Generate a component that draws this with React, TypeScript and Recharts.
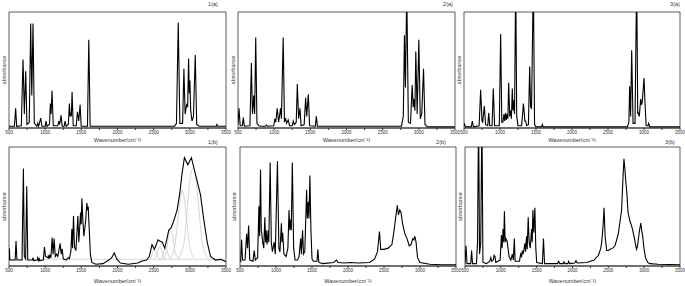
import React from "react";
import { LineChart, Line, XAxis, YAxis, ReferenceArea, ReferenceLine } from "recharts";

type Pt = [number, number];

// x range and ticks shared by every panel
const X_MIN = 500;
const X_MAX = 3500;
const X_TICKS = [500, 750, 1000, 1250, 1500, 1750, 2000, 2250, 2500, 2750, 3000, 3250, 3500];
const Y_MAX = 1;

// spectra: [wavenumber, absorbance]
const spec1a: Pt[] = [
  [500, 0.015], [575, 0.015], [592, 0.17], [606, 0.015],
  [670, 0.02], [694, 0.59], [712, 0.12], [731, 0.49], [748, 0.03],
  [780, 0.05], [800, 0.9], [815, 0.28], [832, 0.9], [850, 0.04],
  [885, 0.015], [897, 0.04], [910, 0.015], [938, 0.085], [955, 0.015],
  [1000, 0.015], [1012, 0.06], [1025, 0.015],
  [1060, 0.03], [1072, 0.21], [1082, 0.12], [1095, 0.32], [1112, 0.02],
  [1175, 0.02], [1188, 0.06], [1200, 0.03], [1220, 0.11], [1235, 0.015],
  [1262, 0.015], [1275, 0.06], [1290, 0.015],
  [1320, 0.03], [1335, 0.21], [1345, 0.1], [1354, 0.13], [1362, 0.1], [1372, 0.31], [1388, 0.02],
  [1430, 0.02], [1446, 0.14], [1464, 0.06], [1483, 0.2], [1498, 0.015],
  [1585, 0.015], [1603, 0.76], [1622, 0.015],
  [2790, 0.015], [2815, 0.04], [2840, 0.91], [2862, 0.04], [2900, 0.04], [2918, 0.51],
  [2935, 0.12], [2955, 0.2], [2970, 0.18], [2983, 0.6], [2992, 0.3], [3001, 0.41],
  [3012, 0.15], [3030, 0.06], [3050, 0.1], [3075, 0.63], [3095, 0.03], [3130, 0.015],
  [3365, 0.015], [3375, 0.03], [3385, 0.015], [3500, 0.015],
];

const spec2a: Pt[] = [
  [500, 0.03], [514, 0.17], [530, 0.02], [560, 0.02], [574, 0.09], [588, 0.015],
  [665, 0.02], [685, 0.56], [700, 0.12], [718, 0.28], [730, 0.12], [745, 0.78], [762, 0.04],
  [790, 0.02], [820, 0.015], [880, 0.015], [894, 0.025], [908, 0.015],
  [995, 0.02], [1009, 0.08], [1022, 0.05], [1042, 0.17], [1062, 0.05], [1088, 0.17], [1100, 0.08],
  [1125, 0.78], [1142, 0.05], [1157, 0.085], [1172, 0.04], [1194, 0.07], [1212, 0.02],
  [1250, 0.02], [1264, 0.06], [1280, 0.03], [1305, 0.05], [1320, 0.38], [1338, 0.08],
  [1357, 0.17], [1372, 0.02], [1415, 0.03], [1435, 0.26], [1450, 0.1], [1472, 0.29], [1490, 0.02],
  [1570, 0.015], [1583, 0.1], [1598, 0.015],
  [2760, 0.015], [2785, 0.1], [2801, 0.8], [2815, 0.35], [2833, 1.2], [2855, 0.05],
  [2885, 0.04], [2908, 0.37], [2922, 0.18], [2935, 0.25], [2946, 0.15], [2958, 0.66],
  [2977, 0.12], [3000, 0.76], [3020, 0.08], [3040, 0.12], [3065, 0.51], [3085, 0.03],
  [3120, 0.01], [3500, 0.01],
];

const spec3a: Pt[] = [
  [500, 0.02], [505, 0.04], [520, 0.01], [600, 0.01], [616, 0.06], [630, 0.01],
  [710, 0.02], [731, 0.33], [750, 0.06], [760, 0.05], [782, 0.19], [800, 0.03],
  [830, 0.02], [843, 0.13], [858, 0.02], [890, 0.02], [907, 0.34], [925, 0.02],
  [990, 0.02], [1009, 0.81], [1025, 0.05], [1040, 0.05], [1055, 0.12], [1065, 0.06],
  [1078, 0.13], [1088, 0.07], [1100, 0.12], [1110, 0.08], [1120, 0.39], [1135, 0.1],
  [1148, 0.15], [1158, 0.08], [1171, 0.34], [1180, 0.15], [1190, 0.24], [1202, 0.12],
  [1218, 1.3], [1232, 0.1], [1250, 0.02],
  [1300, 0.02], [1318, 0.15], [1324, 0.21], [1335, 0.15], [1345, 0.06], [1357, 0.06], [1370, 0.02],
  [1395, 0.03], [1412, 0.53], [1425, 0.18], [1438, 0.17], [1463, 1.3], [1480, 0.03], [1500, 0.01],
  [1575, 0.01], [1588, 0.03], [1600, 0.01],
  [2770, 0.01], [2790, 0.05], [2801, 0.36], [2814, 0.1], [2829, 0.67], [2848, 0.04],
  [2875, 0.04], [2898, 1.3], [2913, 0.12], [2921, 0.13], [2935, 0.1], [2954, 0.25],
  [2965, 0.2], [2975, 0.22], [3000, 0.43], [3015, 0.2], [3030, 0.02], [3055, 0.02],
  [3065, 0.04], [3080, 0.01], [3500, 0.01],
];

const spec1b: Pt[] = [
  [500, 0.05], [505, 0.15], [512, 0.05], [585, 0.05], [597, 0.21], [610, 0.05],
  [680, 0.05], [699, 0.82], [712, 0.08], [730, 0.06], [745, 0.67], [760, 0.05],
  [825, 0.05], [832, 0.07], [840, 0.045], [890, 0.05], [897, 0.07], [910, 0.045], [918, 0.06], [925, 0.045],
  [975, 0.05], [990, 0.16], [1005, 0.08], [1035, 0.07], [1045, 0.09], [1055, 0.06], [1065, 0.09],
  [1080, 0.07], [1096, 0.24], [1110, 0.1], [1124, 0.23], [1140, 0.08], [1160, 0.1], [1175, 0.08],
  [1207, 0.19], [1222, 0.1], [1235, 0.145], [1250, 0.06], [1290, 0.05], [1320, 0.07], [1335, 0.06],
  [1355, 0.12], [1369, 0.31], [1378, 0.15], [1392, 0.42], [1405, 0.16], [1425, 0.13], [1452, 0.42],
  [1465, 0.2], [1475, 0.3], [1489, 0.45], [1498, 0.35], [1507, 0.57], [1520, 0.4], [1535, 0.25],
  [1560, 0.38], [1576, 0.53], [1586, 0.47], [1595, 0.5], [1610, 0.3], [1625, 0.1], [1645, 0.03],
  [1700, 0.015], [1800, 0.02], [1880, 0.05], [1920, 0.07], [1955, 0.11], [1990, 0.06], [2040, 0.025],
  [2150, 0.015], [2280, 0.025], [2330, 0.04], [2400, 0.05], [2440, 0.08], [2477, 0.18], [2509, 0.14],
  [2530, 0.17], [2560, 0.22], [2584, 0.21], [2620, 0.2], [2653, 0.15], [2680, 0.22], [2708, 0.3],
  [2740, 0.32], [2778, 0.38], [2824, 0.47], [2861, 0.61], [2893, 0.78], [2925, 0.91], [2972, 0.85],
  [3022, 0.91], [3078, 0.77], [3147, 0.6], [3193, 0.39], [3240, 0.2], [3286, 0.08], [3355, 0.05],
  [3425, 0.056], [3500, 0.036],
];

// fitted bands under the CH stretch of 1(b)
const FIT_BASE = 0.056;
const fit1bA: Pt[] = [[2430, 0.056], [2465, 0.075], [2490, 0.12], [2510, 0.14], [2530, 0.12], [2555, 0.075], [2590, 0.056]];
const fit1bB: Pt[] = [[2500, 0.056], [2540, 0.085], [2565, 0.14], [2585, 0.16], [2605, 0.14], [2630, 0.085], [2670, 0.056]];
const fit1bC: Pt[] = [[2580, 0.056], [2620, 0.08], [2645, 0.13], [2665, 0.15], [2685, 0.13], [2710, 0.08], [2750, 0.056]];
const fit1bD: Pt[] = [[2610, 0.056], [2670, 0.11], [2705, 0.24], [2735, 0.3], [2765, 0.24], [2800, 0.11], [2860, 0.056]];
const fit1bE: Pt[] = [[2720, 0.056], [2790, 0.16], [2840, 0.42], [2870, 0.58], [2895, 0.64], [2920, 0.58], [2950, 0.42], [3000, 0.16], [3070, 0.056]];
const fit1bF: Pt[] = [[2830, 0.056], [2920, 0.2], [2975, 0.55], [3010, 0.76], [3045, 0.82], [3080, 0.76], [3115, 0.55], [3170, 0.2], [3260, 0.056]];

const spec2b: Pt[] = [
  [500, 0.05], [510, 0.04], [522, 0.22], [535, 0.05], [570, 0.05], [592, 0.27], [605, 0.15],
  [620, 0.34], [635, 0.05], [680, 0.04], [698, 0.13], [712, 0.05], [745, 0.07], [762, 0.5],
  [772, 0.25], [785, 0.81], [795, 0.3], [804, 0.27], [815, 0.2], [830, 0.15], [845, 0.41],
  [855, 0.2], [863, 0.3], [875, 0.18], [891, 0.3], [900, 0.2], [919, 0.87], [935, 0.2],
  [950, 0.12], [975, 0.2], [990, 0.1], [1020, 0.88], [1040, 0.15], [1055, 0.12], [1075, 0.36],
  [1083, 0.2], [1093, 0.28], [1110, 0.1], [1140, 0.08], [1165, 0.15], [1181, 0.47], [1192, 0.3],
  [1204, 0.39], [1212, 0.3], [1227, 0.87], [1245, 0.15], [1265, 0.05], [1300, 0.05], [1320, 0.08],
  [1342, 0.23], [1352, 0.1], [1369, 0.3], [1382, 0.1], [1400, 0.12], [1425, 0.64], [1435, 0.4],
  [1448, 0.54], [1458, 0.4], [1471, 0.76], [1485, 0.3], [1500, 0.06], [1520, 0.04], [1570, 0.04],
  [1581, 0.14], [1595, 0.03], [1650, 0.02], [1800, 0.03], [1840, 0.05], [1860, 0.03], [1950, 0.025],
  [2030, 0.03], [2150, 0.025], [2300, 0.03], [2370, 0.06], [2410, 0.12], [2437, 0.29], [2455, 0.14],
  [2500, 0.14], [2560, 0.15], [2610, 0.18], [2640, 0.3], [2665, 0.42], [2685, 0.51], [2700, 0.43],
  [2720, 0.47], [2736, 0.45], [2760, 0.35], [2790, 0.27], [2820, 0.23], [2850, 0.17], [2875, 0.18],
  [2900, 0.23], [2915, 0.22], [2929, 0.25], [2945, 0.2], [2966, 0.07], [3000, 0.03], [3136, 0.015],
  [3300, 0.01], [3500, 0.01],
];

const spec3b: Pt[] = [
  [500, 0.02], [514, 0.17], [528, 0.02], [580, 0.02], [592, 0.13], [605, 0.02], [660, 0.02],
  [675, 0.2], [689, 1.3], [703, 0.1], [720, 0.2], [736, 1.3], [750, 0.03], [800, 0.02],
  [845, 0.04], [860, 0.07], [872, 0.04], [895, 0.05], [906, 0.09], [918, 0.08], [930, 0.03],
  [990, 0.05], [1008, 0.26], [1018, 0.15], [1031, 0.31], [1040, 0.2], [1050, 0.46], [1060, 0.2],
  [1070, 0.23], [1087, 0.21], [1100, 0.15], [1115, 0.08], [1140, 0.05], [1160, 0.1], [1175, 0.05],
  [1188, 0.23], [1200, 0.04], [1260, 0.04], [1276, 0.1], [1290, 0.08], [1300, 0.13], [1312, 0.1],
  [1336, 0.19], [1345, 0.12], [1359, 0.25], [1368, 0.14], [1382, 0.41], [1395, 0.2], [1410, 0.15],
  [1429, 0.31], [1438, 0.2], [1447, 0.47], [1460, 0.28], [1475, 0.49], [1488, 0.15], [1500, 0.03],
  [1580, 0.02], [1595, 0.23], [1610, 0.02], [1700, 0.02], [1790, 0.02], [1807, 0.04], [1820, 0.02],
  [1870, 0.02], [1880, 0.035], [1895, 0.02], [1935, 0.02], [1946, 0.04], [1960, 0.02], [2030, 0.025],
  [2048, 0.045], [2065, 0.025], [2200, 0.03], [2300, 0.05], [2362, 0.09], [2395, 0.15], [2408, 0.2],
  [2428, 0.35], [2440, 0.49], [2455, 0.25], [2477, 0.13], [2500, 0.13], [2523, 0.14], [2560, 0.15],
  [2593, 0.17], [2639, 0.27], [2685, 0.47], [2705, 0.75], [2718, 0.9], [2730, 0.82], [2745, 0.7],
  [2759, 0.61], [2775, 0.45], [2800, 0.38], [2824, 0.34], [2840, 0.3], [2861, 0.24], [2893, 0.14],
  [2905, 0.16], [2916, 0.21], [2935, 0.3], [2953, 0.36], [2965, 0.3], [2980, 0.25], [2995, 0.16],
  [3018, 0.07], [3050, 0.03], [3078, 0.02], [3193, 0.015], [3500, 0.01],
];

const FONT = "'Liberation Sans', Arial, sans-serif";
const INK = "#333";

const rows = (pts: Pt[]) => pts.map(([wn, a]) => ({ wn, a }));

interface PanelProps {
  left: number;
  top: number;
  yW: number;
  plotW: number;
  plotH: number;
  mTop: number;
  axisH: number;
  mRight: number;
  spectrum: Pt[];
  fits?: Pt[][];
  base?: number;
}

const Panel: React.FC<PanelProps> = ({ left, top, yW, plotW, plotH, mTop, axisH, mRight, spectrum, fits, base }) => (
  <div style={{ position: "absolute", left, top }}>
    <LineChart
      width={yW + plotW + mRight}
      height={mTop + plotH + axisH}
      margin={{ top: mTop, right: mRight, bottom: 0, left: 0 }}
      style={{ fontFamily: FONT }}
    >
      <XAxis
        dataKey="wn"
        type="number"
        domain={[X_MIN, X_MAX]}
        ticks={X_TICKS}
        interval={0}
        allowDataOverflow
        height={axisH}
        tickFormatter={(v: number) => (v % 500 === 0 ? String(v) : "")}
        tick={{ fontSize: 4.5, fill: INK }}
        tickSize={2}
        tickMargin={1}
        stroke={INK}
        label={{ value: "Wavenumber(cm⁻¹)", position: "insideBottom", offset: 0, fontSize: 5.5, fill: INK }}
      />
      <YAxis
        type="number"
        domain={[0, Y_MAX]}
        allowDataOverflow
        width={yW}
        tick={false}
        tickLine={false}
        axisLine={false}
        label={{ value: "absorbance", angle: -90, position: "center", fontSize: 5.5, fill: INK }}
      />
      <ReferenceArea x1={X_MIN} x2={X_MAX} y1={0} y2={Y_MAX} fill="none" stroke={INK} strokeWidth={0.8} />
      {base != null && <ReferenceLine y={base} stroke="#cfcfcf" strokeWidth={0.8} />}
      {(fits || []).map((f, i) => (
        <Line key={i} data={rows(f)} dataKey="a" type="monotone" stroke="#c4c4c4" strokeWidth={0.7} dot={false} isAnimationActive={false} />
      ))}
      <Line data={rows(spectrum)} dataKey="a" type="linear" stroke="#000" strokeWidth={1.1} dot={false} isAnimationActive={false} />
    </LineChart>
  </div>
);

const Tag: React.FC<{ x: number; y: number; text: string }> = ({ x, y, text }) => (
  <div
    style={{
      position: "absolute",
      left: x,
      top: y,
      transform: "translate(-50%, -50%)",
      fontSize: 5.5,
      lineHeight: 1,
      fontFamily: FONT,
      color: INK,
      whiteSpace: "nowrap",
    }}
  >
    {text}
  </div>
);

export default function App() {
  return (
    <div style={{ position: "fixed", left: 0, top: 0, width: 685, height: 286, background: "#fff", overflow: "hidden" }}>
      <Panel left={0} top={0} yW={9} plotW={217} plotH={116} mTop={12} axisH={14} mRight={6} spectrum={spec1a} />
      <Panel left={228} top={0} yW={10} plotW={217} plotH={116} mTop={12} axisH={14} mRight={6} spectrum={spec2a} />
      <Panel left={455} top={0} yW={9} plotW={216} plotH={116} mTop={12} axisH={14} mRight={5} spectrum={spec3a} />
      <Panel left={0} top={135} yW={9} plotW={217} plotH={119} mTop={12} axisH={17} mRight={6} spectrum={spec1b}
        fits={[fit1bA, fit1bB, fit1bC, fit1bD, fit1bE, fit1bF]} base={FIT_BASE} />
      <Panel left={228} top={135} yW={12} plotW={216} plotH={119} mTop={12} axisH={17} mRight={6} spectrum={spec2b} />
      <Panel left={455} top={135} yW={10} plotW={215} plotH={119} mTop={12} axisH={17} mRight={5} spectrum={spec3b} />
      <Tag x={213} y={5} text="1(a)" />
      <Tag x={448} y={5} text="2(a)" />
      <Tag x={675} y={5} text="3(a)" />
      <Tag x={213} y={143} text="1(b)" />
      <Tag x={441} y={143} text="2(b)" />
      <Tag x={670} y={143} text="3(b)" />
    </div>
  );
}
